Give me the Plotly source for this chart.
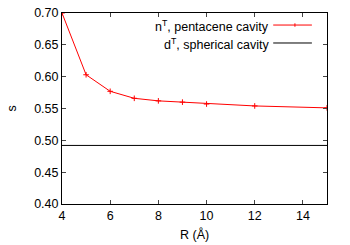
import plotly.graph_objects as go

R = [4, 5, 6, 7, 8, 9, 10, 12, 15]
s_pentacene = [0.700, 0.603, 0.577, 0.566, 0.562, 0.560, 0.557, 0.554, 0.551]
R_sphere = [4, 15]
s_sphere = [0.492, 0.492]
x_ticks = [4, 6, 8, 10, 12, 14]
y_ticks = [0.40, 0.45, 0.50, 0.55, 0.60, 0.65, 0.70]
labels = ["n<sup>T</sup>, pentacene cavity", "d<sup>T</sup>, spherical cavity"]
colors = ["#ff0000", "#000000"]
x_title = "R (Å)"
y_title = "s"

font = dict(family="Liberation Sans, Arial, sans-serif", size=12.5, color="black")

fig = go.Figure()
fig.add_trace(go.Scatter(x=R, y=s_pentacene, mode="lines+markers",
                         line=dict(color=colors[0], width=1),
                         marker=dict(symbol="cross-thin", size=4,
                                     line=dict(color=colors[0], width=1)),
                         showlegend=False))
fig.add_trace(go.Scatter(x=R_sphere, y=s_sphere, mode="lines",
                         line=dict(color=colors[1], width=1), showlegend=False))

# gnuplot-style legend: text right-aligned, sample to the right
leg_line_y = [0.937, 0.843]
leg_text_y = [0.930, 0.836]
for lab, col, ly, ty in zip(labels, colors, leg_line_y, leg_text_y):
    fig.add_annotation(xref="paper", yref="paper", x=0.79, y=ty, text=lab,
                       showarrow=False, xanchor="right", yanchor="middle", font=font)
    fig.add_shape(type="line", xref="paper", yref="paper", x0=0.797, x1=0.943,
                  y0=ly, y1=ly, line=dict(color=col, width=1))
fig.add_shape(type="line", xref="paper", yref="paper", x0=0.879, x1=0.879,
              y0=leg_line_y[0] - 0.009, y1=leg_line_y[0] + 0.009,
              line=dict(color=colors[0], width=1))

# axis titles
fig.add_annotation(xref="paper", yref="paper", x=0.5, y=-0.162, text=x_title,
                   showarrow=False, xanchor="center", yanchor="middle", font=font)
fig.add_annotation(xref="paper", yref="paper", x=-0.189, y=0.5, text=y_title,
                   showarrow=False, xanchor="center", yanchor="middle", font=font,
                   textangle=-90)

fig.update_xaxes(range=[4, 15], tickvals=x_ticks, ticks="inside", ticklen=4,
                 showline=True, linecolor="black", linewidth=1, mirror="ticks",
                 showgrid=False, zeroline=False, tickfont=font, automargin=False)
fig.update_yaxes(range=[0.40, 0.70], tickvals=y_ticks, tickformat=".2f",
                 ticks="inside", ticklen=4,
                 showline=True, linecolor="black", linewidth=1, mirror="ticks",
                 showgrid=False, zeroline=False, tickfont=font, automargin=False)
fig.update_layout(width=350, height=245, margin=dict(l=62, r=23, t=13, b=41),
                  plot_bgcolor="white", paper_bgcolor="white", font=font)
fig.write_html("out.html", config={"displayModeBar": False},
               post_script="document.body.style.margin='0';document.body.style.overflow='hidden';")
